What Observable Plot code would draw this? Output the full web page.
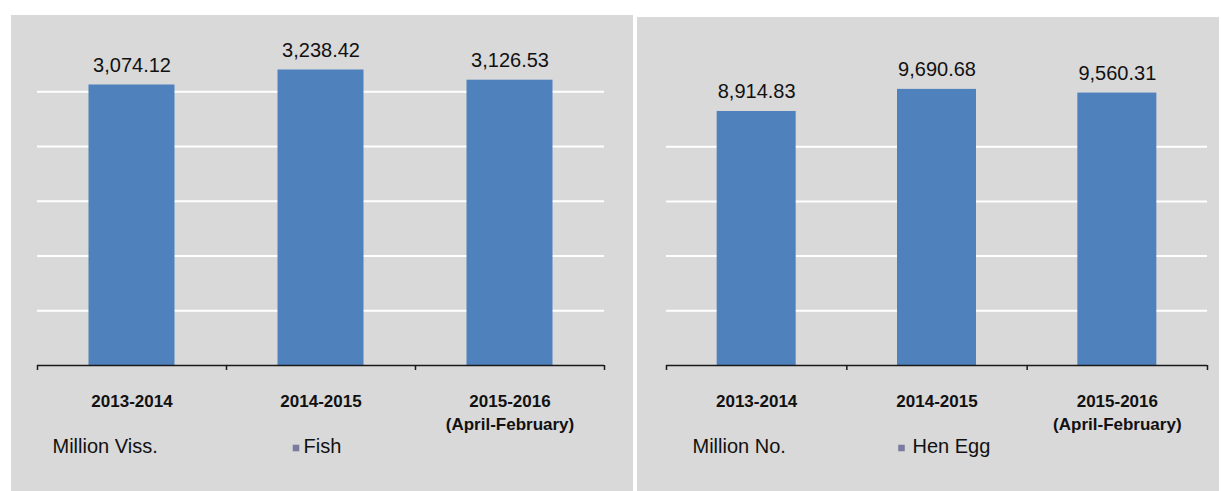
<!DOCTYPE html>
<html><head><meta charset="utf-8">
<script src="https://cdn.jsdelivr.net/npm/d3@7"></script>
<script src="https://cdn.jsdelivr.net/npm/@observablehq/plot@0.6"></script>
<style>
body{margin:0;background:#fff;width:1221px;height:491px;position:relative;overflow:hidden;font-family:"Liberation Sans",Arial,sans-serif;}
.panel{position:absolute;background:#d9d9d9;}
.panel svg{display:block;}
</style></head><body>
<div id="left" class="panel" style="left:11px;top:15px;width:622px;height:476px"></div>
<div id="right" class="panel" style="left:637px;top:17px;width:582px;height:474px"></div>
<script>
const categories = ["2013-2014", "2014-2015", "2015-2016\n(April-February)"];
const fishValues = [3074.12, 3238.42, 3126.53];
const eggValues = [8914.83, 9690.68, 9560.31];
const fishGridTicks = [600, 1200, 1800, 2400, 3000];
const eggGridTicks = [1920, 3840, 5760, 7680];
const fishDomain = [0, 3600];
const eggDomain = [0, 11520];
const fishUnit = "Million Viss.";
const eggUnit = "Million No.";
const fishSeries = "Fish";
const eggSeries = "Hen Egg";
const boundaryTicks = [0, 1, 2, 3];

const fmt = d3.format(",.2f");

function chart(o) {
  const data = categories.map((c, i) => ({c, i, v: o.values[i]}));
  return Plot.plot({
    width: o.width, height: o.height,
    marginLeft: o.marginLeft, marginRight: o.marginRight, marginTop: o.marginTop, marginBottom: 126,
    style: {background: "transparent", fontFamily: "'Liberation Sans', Arial, sans-serif", color: "#111", overflow: "visible"},
    x: {domain: [0, 3], axis: null},
    y: {domain: o.domain, axis: null},
    marks: [
      Plot.gridY(o.gridTicks, {stroke: "#ffffff", strokeOpacity: 1, strokeWidth: 2}),
      Plot.rectY(data, {x1: d => d.i + o.gap, x2: d => d.i + 1 - o.gap, y: "v", fill: "#4f81bd"}),
      Plot.ruleY([0], {stroke: "#1a1a1a", strokeWidth: 1.5}),
      Plot.axisX(boundaryTicks, {tickSize: 5, tickFormat: () => "", stroke: "#1a1a1a", strokeWidth: 1.5, label: null}),
      Plot.text(data, {x: d => d.i + 0.5, y: "v", text: d => fmt(d.v), lineAnchor: "bottom", dy: -13, fontSize: 20, fill: "#111"}),
      Plot.text(data, {x: d => d.i + 0.5, y: () => 0, text: "c", lineAnchor: "top", dy: 25, fontSize: 17, fontWeight: "bold", lineHeight: 1.35, fill: "#111"}),
      Plot.text([o.unit], {frameAnchor: "bottom-left", text: d => d, textAnchor: "start", lineAnchor: "bottom", dx: o.unitDx, dy: 87, fontSize: 20, fill: "#111"}),
      Plot.dot([o.series], {frameAnchor: "bottom-left", symbol: "square", r: 3.7, fill: "#7b7ba0", stroke: null, dx: o.swatchDx, dy: 82.5}),
      Plot.text([o.series], {frameAnchor: "bottom-left", text: d => d, textAnchor: "start", lineAnchor: "bottom", dx: o.seriesDx, dy: 87, fontSize: 20, fill: "#111"})
    ]
  });
}

document.getElementById("left").append(chart({
  values: fishValues, domain: fishDomain, gridTicks: fishGridTicks, unit: fishUnit, series: fishSeries,
  width: 622, height: 476, marginLeft: 26, marginRight: 29, marginTop: 21.5, gap: 0.2725,
  unitDx: 15, swatchDx: 258.5, seriesDx: 266
}));
document.getElementById("right").append(chart({
  values: eggValues, domain: eggDomain, gridTicks: eggGridTicks, unit: eggUnit, series: eggSeries,
  width: 582, height: 474, marginLeft: 29, marginRight: 12, marginTop: 19.75, gap: 0.281,
  unitDx: 26, swatchDx: 235, seriesDx: 246
}));
</script>
</body></html>
